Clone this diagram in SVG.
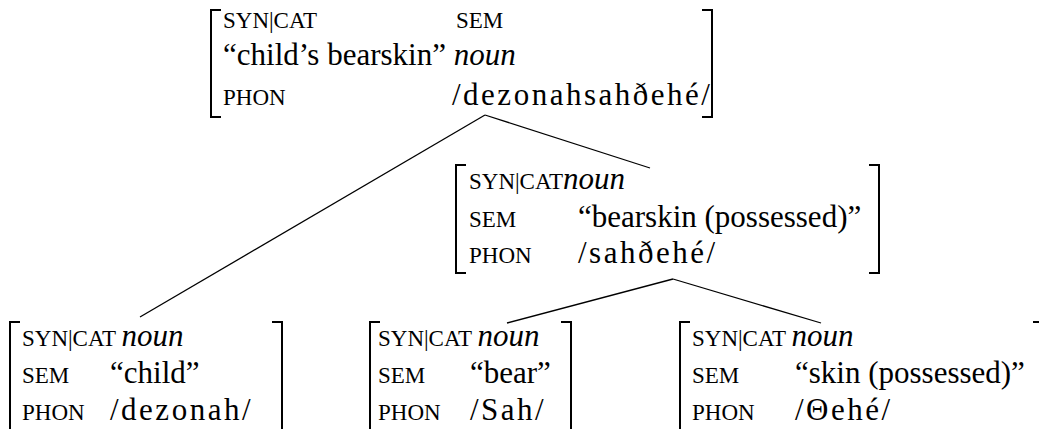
<svg xmlns="http://www.w3.org/2000/svg" width="1039" height="429" viewBox="0 0 1039 429">
  <style>
    .lab { font-size: 23px; }
    .val { font-size: 31px; }
    .it { font-style: italic; font-size: 31px; }
    .ph { font-size: 31px; letter-spacing: 2.5px; }
    .br { fill: none; stroke: #000; stroke-width: 2; }
    .edge { stroke: #000; stroke-width: 1.3; fill: none; }
  </style>

  <!-- tree edges -->
  <g id="connectors">
    <line class="edge" x1="485" y1="115" x2="140" y2="317"/>
    <line class="edge" x1="485" y1="115" x2="650" y2="168"/>
    <line class="edge" x1="673" y1="279" x2="507" y2="323"/>
    <line class="edge" x1="673" y1="279" x2="821" y2="323"/>
  </g>

  <g font-family="Liberation Serif" fill="#000">
    <!-- mother: child's bearskin -->
    <g id="node-root">
      <path class="br" d="M221,10 H211 V117 H221"/>
      <path class="br" d="M702,10 H712 V117 H702"/>
      <text class="lab" x="223" y="28">SYN|CAT</text>
      <text class="lab" x="456" y="28">SEM</text>
      <text x="223" y="65"><tspan class="val">“child’s bearskin” </tspan><tspan class="it">noun</tspan></text>
      <text class="lab" x="223" y="105">PHON</text>
      <text class="ph" x="452" y="105">/dezonahsahðehé/</text>
    </g>

    <!-- bearskin (possessed) -->
    <g id="node-bearskin">
      <path class="br" d="M466,165 H456 V273 H466"/>
      <path class="br" d="M869,165 H879 V273 H869"/>
      <text x="469" y="189"><tspan class="lab">SYN|CAT</tspan><tspan class="it">noun</tspan></text>
      <text class="lab" x="469" y="227">SEM</text>
      <text class="val" x="578" y="227">“bearskin (possessed)”</text>
      <text class="lab" x="469" y="263">PHON</text>
      <text class="ph" x="578" y="263">/sahðehé/</text>
    </g>

    <!-- child -->
    <g id="node-child">
      <path class="br" d="M20,322 H10 V432"/>
      <path class="br" d="M272,322 H282 V432"/>
      <text x="22" y="346"><tspan class="lab">SYN|CAT </tspan><tspan class="it">noun</tspan></text>
      <text class="lab" x="22" y="383">SEM</text>
      <text class="val" x="110" y="383">“child”</text>
      <text class="lab" x="22" y="420">PHON</text>
      <text class="ph" x="110" y="420">/dezonah/</text>
    </g>

    <!-- bear -->
    <g id="node-bear">
      <path class="br" d="M380,322 H370 V432"/>
      <path class="br" d="M561,322 H571 V432"/>
      <text x="378" y="346"><tspan class="lab">SYN|CAT </tspan><tspan class="it">noun</tspan></text>
      <text class="lab" x="378" y="383">SEM</text>
      <text class="val" x="470" y="383">“bear”</text>
      <text class="lab" x="378" y="420">PHON</text>
      <text class="ph" x="470" y="420">/Sah/</text>
    </g>

    <!-- skin (possessed) -->
    <g id="node-skin">
      <path class="br" d="M690,322 H680 V432"/>
      <path class="br" d="M1033,322 H1041 V432"/>
      <text x="692" y="346"><tspan class="lab">SYN|CAT </tspan><tspan class="it">noun</tspan></text>
      <text class="lab" x="692" y="383">SEM</text>
      <text class="val" x="795" y="383">“skin (possessed)”</text>
      <text class="lab" x="692" y="420">PHON</text>
      <text class="ph" x="795" y="420">/Θehé/</text>
    </g>
  </g>
</svg>
